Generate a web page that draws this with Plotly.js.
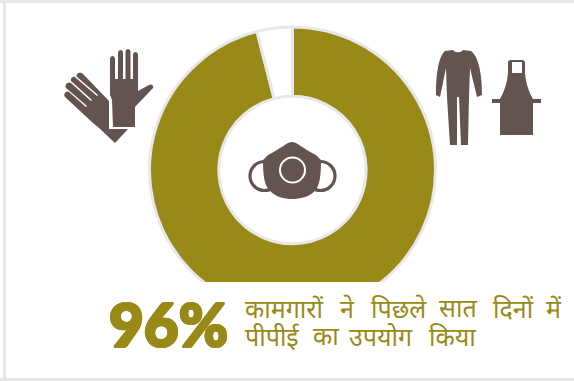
<!DOCTYPE html>
<html>
<head>
<meta charset="utf-8">
<script src="https://cdn.plot.ly/plotly-3.0.1.min.js"></script>
<style>html,body{margin:0;padding:0;background:#fff}#chart{width:574px;height:381px}</style>
</head>
<body>
<div id="chart"></div>
<script>
// Share of workers who used PPE in the last seven days
const categories = ['पीपीई का उपयोग किया', 'उपयोग नहीं किया'];
const shares = [96, 4];
const sliceColors = ['#998a18', '#ffffff'];
const headline = '96%';
const captionLine1 = ['कामगारों', 'ने', 'पिछले', 'सात', 'दिनों', 'में'];
const captionLine1X = [243, 338, 369, 437, 491, 544];
const captionLine2 = ['पीपीई', 'का', 'उपयोग', 'किया'];
const captionLine2X = [243, 311, 347, 427];

const W = 574, H = 381;
const ICON = '#645450', OLIVE = '#998a18';
const CAPTION_FONT = {family: '"Noto Sans Devanagari", "Noto Sans", sans-serif', size: 25, color: OLIVE};
const HEADLINE_HALO = ['1.2px 0', '-1.2px 0', '0 1.2px', '0 -1.2px', '0.9px 0.9px', '-0.9px 0.9px', '0.9px -0.9px', '-0.9px -0.9px']
  .map(offset => offset + ' 0 ' + OLIVE).join(', ');

// Convert a pixel-space SVG path (y down) into paper coordinates
function paperPath(d) {
  return d.replace(/(-?[\d.]+),(-?[\d.]+)/g, (m, x, y) =>
    (parseFloat(x) / W).toFixed(5) + ',' + (1 - parseFloat(y) / H).toFixed(5));
}
function icon(d, color) {
  return {type: 'path', xref: 'paper', yref: 'paper', layer: 'above', path: paperPath(d),
          fillcolor: color || ICON, line: {width: 0}};
}
function disc(cx, cy, r, fill, stroke, sw) {
  return {type: 'circle', xref: 'paper', yref: 'paper', layer: 'above',
          x0: (cx - r) / W, x1: (cx + r) / W, y0: 1 - (cy + r) / H, y1: 1 - (cy - r) / H,
          fillcolor: fill, line: {color: stroke || fill, width: sw || 0}};
}
function box(x0, y0, x1, y1, fill) {
  return {type: 'rect', xref: 'paper', yref: 'paper', layer: 'above',
          x0: x0 / W, x1: x1 / W, y0: 1 - y1 / H, y1: 1 - y0 / H,
          fillcolor: fill, line: {width: 0}};
}
function label(text, x, yPx, font) {
  return {text: text, x: x / W, y: 1 - yPx / H, xanchor: 'left', yanchor: 'middle', showarrow: false,
          xref: 'paper', yref: 'paper', font: font};
}

const shapes = [
  // text panel hides the lower part of the ring
  box(6, 282, 574, 378, '#ffffff'),
  // frame
  box(0, 0, 574, 3, '#e7e7e7'),
  box(3, 0, 6, 381, '#e7e7e7'),
  box(0, 378, 574, 381, '#e7e7e7'),

  // back glove, fingers toward the upper left
  icon('M83,74 L109,101 L109,129 L128,129 L115,143 L98,127 L93,123 L65,97 C63,94 66,90 69,92 L86,107 L87,106 L66,88 C64,85 68,81 71,83 L91,101 L92,100 L71,81 C70,78 74,75 76,78 L97,96 L98,95 L77,77 C75,74 80,71 83,74 Z'),
  // front glove, fingers up
  icon('M110,59 C110,55 115,55 115,59 L115,79 L118,79 L118,53 C118,49 123,49 123,53 L123,79 L125.5,79 L125.5,52 C125.5,48 130.5,48 130.5,52 L130.5,79 L133,79 L133,55 C133,51 138,51 138,55 L138,91 L149,85 C152,83 155,87 152,89 L135,107 L135,127 L113,127 L112,100 L110,95 Z'),

  // coverall
  icon('M445,51 L453,50 C455,53 461,53 463,50 L471,51 C478,56 482,72 482,95 L477,97 L470,68 L469,97 L468,145 L461,145 L459,97 L457,97 L457,145 L450,145 L447,97 L446,68 L440,97 L436,95 C436,72 439,56 445,51 Z'),

  // apron
  icon('M511,60 L522,60 C524,60 525,61 525,63 L525,73 C526,84 529,92 533,99 L541,99 L541,103 L533,103 L533,135 L500,135 L500,103 L492,103 L492,99 L500,99 C504,92 507,84 508,73 L508,63 C508,61 509,60 511,60 Z'),
  box(512, 62, 522, 73, '#ffffff'),

  // mask straps
  disc(264.5, 176, 14.5, '#ffffff', ICON, 3.2),
  disc(320.5, 176, 14.5, '#ffffff', ICON, 3.2),
  // mask body
  icon('M292,142 C287,142 282,148 268,155 L263,160 C263,175 264,185 270,191 C276,197 284,199 292,199 C300,199 309,197 315,191 C320,185 321,175 321,160 L316,155 C302,148 297,142 292,142 Z'),
  disc(292.5, 170, 12.5, ICON, '#ffffff', 2)
];

const annotations = [
  label(headline, 107, 324, {family: 'Lato, sans-serif', size: 60, color: OLIVE, weight: 900, shadow: HEADLINE_HALO})
];
captionLine1.forEach((word, i) => annotations.push(label(word, captionLine1X[i], 311, CAPTION_FONT)));
captionLine2.forEach((word, i) => annotations.push(label(word, captionLine2X[i], 339, CAPTION_FONT)));

Plotly.newPlot('chart', [{
  type: 'pie',
  labels: categories,
  values: shares,
  hole: 0.515,
  sort: false,
  direction: 'clockwise',
  rotation: 0,
  textinfo: 'none',
  hoverinfo: 'label+percent',
  marker: {colors: sliceColors, line: {color: '#e8e8ec', width: 3}},
  domain: {x: [(292.5 - 143) / W, (292.5 + 143) / W], y: [1 - (170 + 143) / H, 1 - (170 - 143) / H]},
  showlegend: false
}], {
  width: W, height: H,
  margin: {l: 0, r: 0, t: 0, b: 0},
  paper_bgcolor: '#ffffff',
  shapes: shapes,
  annotations: annotations
}, {displayModeBar: false, staticPlot: true});
</script>
</body>
</html>
